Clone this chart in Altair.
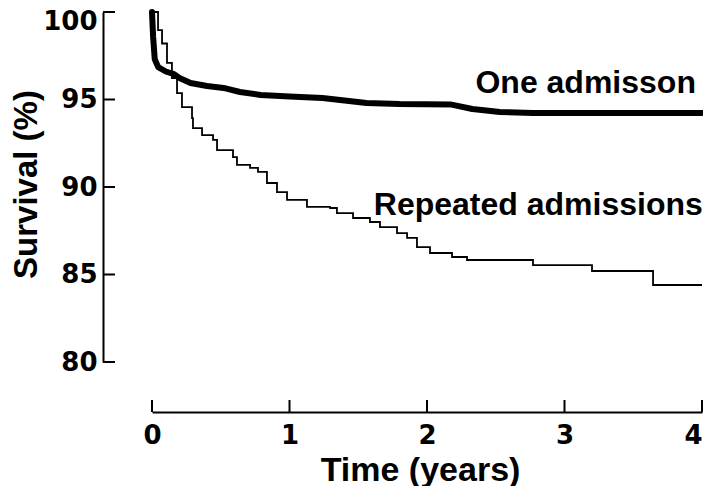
import altair as alt
import pandas as pd

# Kaplan-Meier style survival data
one_t = [0, 0.008, 0.02, 0.045, 0.10, 0.16, 0.20, 0.28, 0.40, 0.52, 0.64, 0.79,
         1.00, 1.24, 1.56, 1.80, 2.17, 2.33, 2.53, 2.77, 4.0]
one_s = [100, 98.6, 97.3, 96.85, 96.6, 96.45, 96.23, 95.94, 95.77, 95.66, 95.43, 95.26,
         95.17, 95.09, 94.8, 94.74, 94.72, 94.46, 94.29, 94.23, 94.23]

rep_t = [0, 0.044, 0.073, 0.109, 0.145, 0.182, 0.218, 0.291, 0.298, 0.364, 0.444,
         0.473, 0.589, 0.618, 0.713, 0.771, 0.836, 0.909, 0.982, 1.127, 1.295,
         1.345, 1.462, 1.585, 1.658, 1.782, 1.855, 1.927, 2.022, 2.182, 2.291,
         2.771, 3.2, 3.644, 4.0]
rep_s = [100, 98.97, 98.2, 97.09, 96.23, 95.37, 94.57, 93.94, 93.37, 92.97, 92.69,
         92.11, 91.71, 91.26, 91.09, 90.86, 90.23, 89.71, 89.26, 88.86, 88.8,
         88.51, 88.23, 88.0, 87.71, 87.37, 87.09, 86.57, 86.23, 86.0, 85.83,
         85.54, 85.2, 84.4, 84.4]

x_ticks = [0, 1, 2, 3, 4]
y_ticks = [80, 85, 90, 95, 100]

labels = ["One admisson", "Repeated admissions"]
label_t = [3.956, 4.006]
label_s = [95.37, 88.4]

FONT = "Liberation Sans"
NUM_FONT = "DejaVu Sans"
LABEL_SIZE = 26

xs = alt.Scale(domain=[0, 4], nice=False, zero=False)
ys = alt.Scale(domain=[80, 100], nice=False, zero=False)

x_axis = alt.Axis(
    values=x_ticks, format="d", offset=50, ticks=False, grid=False,
    domainColor="black", domainWidth=2, labelFlush=False, labelOverlap=False,
    labelFont=NUM_FONT, labelFontSize=LABEL_SIZE, labelFontWeight="bold",
    labelColor="black", labelPadding=10,
    labelAlign={"condition": {"test": "datum.value == 4", "value": "right"},
                "value": "center"},
    title="Time (years)", titleFont=FONT, titleFontSize=34, titleFontWeight="bold",
    titleColor="black", titleX=268, titleY=68, titleBaseline="alphabetic",
    titleAlign="center",
)
y_axis = alt.Axis(
    values=y_ticks, format="d", offset=49, ticks=False, grid=False,
    domainColor="black", domainWidth=2, labelFlush=False, labelOverlap=False,
    labelFont=NUM_FONT, labelFontSize=LABEL_SIZE, labelFontWeight="bold",
    labelColor="black", labelPadding=6,
    labelOffset={"condition": {"test": "datum.value == 100", "value": 9},
                 "value": 0},
    title="Survival (%)", titleFont=FONT, titleFontSize=33, titleFontWeight="bold",
    titleColor="black", titleAngle=270, titleX=-67, titleY=172,
    titleBaseline="alphabetic", titleAlign="center",
)

X = alt.X("t:Q", scale=xs, axis=x_axis)
Y = alt.Y("s:Q", scale=ys, axis=y_axis)

df_one = pd.DataFrame({"t": one_t, "s": one_s})
df_rep = pd.DataFrame({"t": rep_t, "s": rep_s})
df_lab = pd.DataFrame({"t": label_t, "s": label_s, "label": labels})

line_one = alt.Chart(df_one).mark_line(
    color="black", strokeWidth=6, strokeJoin="round", strokeCap="round"
).encode(x=X, y=Y)

line_rep = alt.Chart(df_rep).mark_line(
    color="black", strokeWidth=1.8, interpolate="step-after"
).encode(x=X, y=Y)

text = alt.Chart(df_lab).mark_text(
    align="right", baseline="alphabetic", font=FONT, fontSize=32,
    fontWeight="bold", color="black"
).encode(x=X, y=Y, text="label:N")

ytick = alt.Chart(pd.DataFrame({"s": y_ticks})).mark_rule(
    color="black", strokeWidth=2
).encode(y=Y, x=alt.value(-49), x2=alt.value(-37))

xtick = alt.Chart(pd.DataFrame({"t": x_ticks})).mark_rule(
    color="black", strokeWidth=2
).encode(x=X, y=alt.value(400), y2=alt.value(388))

chart = alt.layer(line_one, line_rep, text, ytick, xtick).properties(
    width=550, height=350,
    autosize=alt.AutoSizeParams(type="none"),
    padding={"left": 144, "top": 4, "right": 1, "bottom": 124},
    background="white",
).configure_view(stroke=None)

chart.save("out.html", embed_options={"renderer": "svg", "actions": False})
